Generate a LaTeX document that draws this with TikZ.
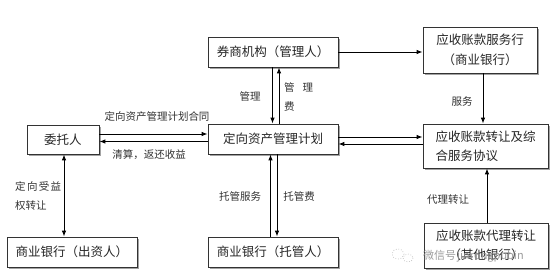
\documentclass[tikz,border=0pt]{standalone}
\usepackage{fontspec}
\setmainfont{Noto Sans CJK SC}
\usetikzlibrary{arrows.meta,shadows}
\begin{document}
\begin{tikzpicture}[x=1pt,y=-1pt,
  boxnode/.style={draw=black!80,line width=0.8pt,fill=white,inner sep=0pt,
    drop shadow={shadow xshift=1.6pt,shadow yshift=-1.6pt,fill=black!45,opacity=0.8},
    font=\fontsize{12.5}{19.5}\selectfont,text=black!85,align=center},
  lbl/.style={inner sep=0pt,font=\fontsize{10.5}{19}\selectfont,text=black!80},
  arr/.style={draw=black,line width=0.9pt,-{Latex[length=6pt,width=4.5pt]}},
  dbl/.style={draw=black,line width=0.9pt,{Latex[length=6pt,width=4.5pt]}-{Latex[length=6pt,width=4.5pt]}}]
\useasboundingbox[fill=white] (0,0) rectangle (558,280);
% boxes
\node[boxnode,minimum width=130pt,minimum height=30pt] (broker) at (273,52) {券商机构（管理人）};
\node[boxnode,minimum width=114pt,minimum height=46pt] (svc) at (480,50) {应收账款服务行\\（商业银行）};
\node[boxnode,minimum width=72pt,minimum height=29pt] (client) at (63,139.5) {委托人};
\node[boxnode,minimum width=130pt,minimum height=30pt] (plan) at (273,139) {定向资产管理计划};
\node[boxnode,minimum width=125pt,minimum height=44pt,align=left] (agree) at (485.5,146) {应收账款转让及综\\合服务协议};
\node[boxnode,minimum width=130pt,minimum height=30pt] (funder) at (72,252) {商业银行（出资人）};
\node[boxnode,minimum width=130pt,minimum height=30pt] (cust) at (273,252) {商业银行（托管人）};
\node[boxnode,minimum width=124pt,minimum height=45pt] (agent) at (486,245.5) {应收账款代理转让\\（其他银行）};
% watermark
\node[inner sep=0pt,anchor=west,font=\fontsize{11}{12}\selectfont,text=black!45,opacity=0.85] (wm) at (423,256) {微信号\hspace{1pt}jinrongpubin};
\draw[black!35,line width=0.6pt,dotted] (398,254) ellipse (6 and 5);
\draw[black!35,line width=0.6pt,dotted] (408,258) ellipse (5 and 4);
% connectors
\draw[arr] (client.east |- 0,134) -- (plan.west |- 0,134);
\draw[arr] (plan.west |- 0,141.5) -- (client.east |- 0,141.5);
\draw[arr] (plan.east |- 0,137) -- (agree.west |- 0,137);
\draw[arr] (agree.west |- 0,144) -- (plan.east |- 0,144);
\draw[arr] (broker.south -| 272.5,0) -- (plan.north -| 272.5,0);
\draw[arr] (plan.north -| 279,0) -- (broker.south -| 279,0);
\draw[arr] (cust.north -| 270.5,0) -- (plan.south -| 270.5,0);
\draw[arr] (plan.south -| 277,0) -- (cust.north -| 277,0);
\draw[arr] (broker.east) -- (svc.west |- broker.east);
\draw[arr] (svc.south -| 483,0) -- (agree.north -| 483,0);
\draw[arr] (agent.north -| 487,0) -- (agree.south -| 487,0);
\draw[dbl] (client.south -| 64,0) -- (funder.north -| 64,0);
% labels
\node[lbl] (l1) at (157,117) {定向资产管理计划合同};
\node[lbl] (l2) at (149,155) {清算，返还收益};
\node[lbl] (l3) at (250,96) {管理};
\node[lbl,anchor=north west,align=left] (l4) at (284,82) {\makebox[29pt][l]{管\hfill 理}\\费};
\node[lbl] (l5) at (462,102) {服务};
\node[lbl,anchor=north west,align=left] (l6) at (15,181) {\makebox[46pt][l]{定\hfill 向\hfill 受\hfill 益}\\权转让};
\node[lbl] (l7) at (240,196) {托管服务};
\node[lbl] (l8) at (299,196) {托管费};
\node[lbl] (l9) at (448,200) {代理转让};
\end{tikzpicture}
\end{document}
